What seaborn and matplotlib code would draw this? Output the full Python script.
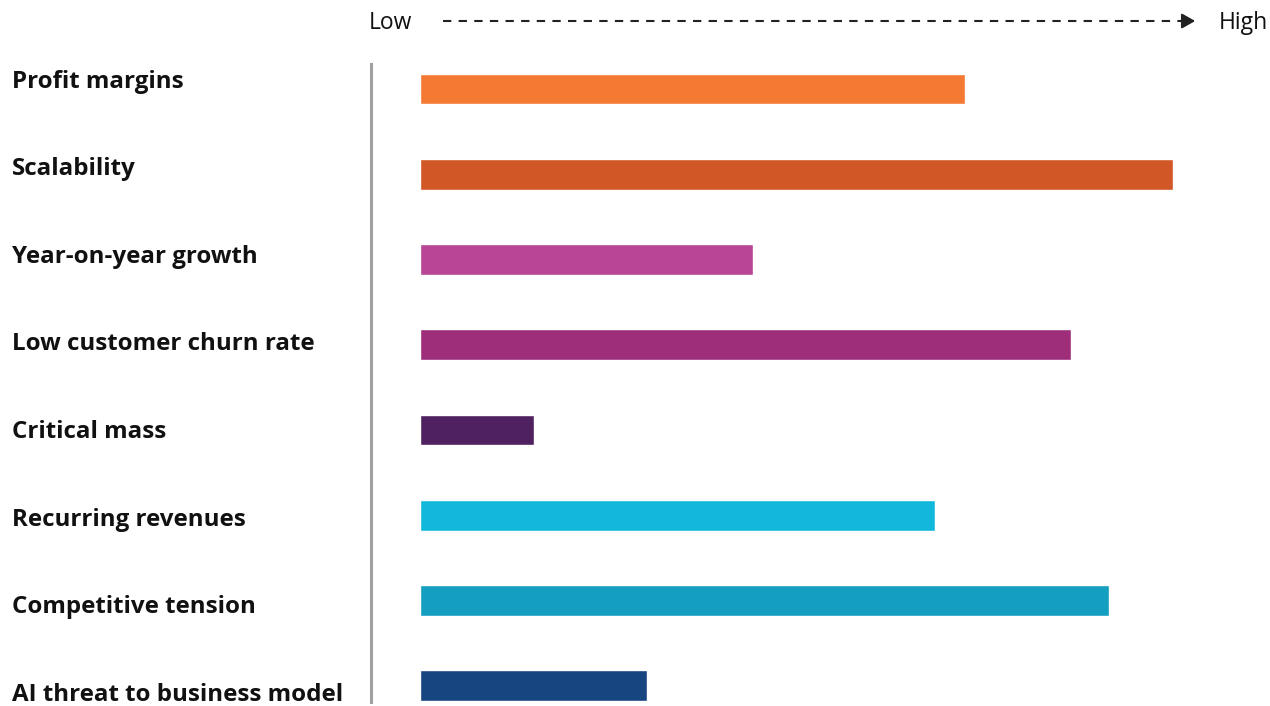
import matplotlib
matplotlib.use("Agg")
import matplotlib.pyplot as plt
import seaborn as sns
import pandas as pd

categories = ["Profit margins", "Scalability", "Year-on-year growth", "Low customer churn rate",
              "Critical mass", "Recurring revenues", "Competitive tension", "AI threat to business model"]
values = [70.2, 97.0, 42.9, 83.9, 14.7, 66.4, 88.8, 29.3]
colors = ["#F47932", "#D25727", "#B94597", "#9E2E7A", "#4F2160", "#12B7DC", "#149FC0", "#174580"]
axis_low = "Low"
axis_high = "High"

sns.set_style("white")
plt.rcParams['font.family'] = ['Open Sans', 'DejaVu Sans']

W, H = 1270, 706
fig = plt.figure(figsize=(12.7, 7.06), dpi=100)
ax = fig.add_axes([420 / W, 1 - 702 / H, (1196 - 420) / W, (702 - 64) / H])

df = pd.DataFrame({"cat": categories, "val": values})
sns.barplot(data=df, y="cat", x="val", hue="cat", palette=colors, orient="h",
            width=0.36, legend=False, ax=ax, saturation=1)

ax.set_xlim(0, 100)
ax.set_ylim(7.19, -0.293)
ax.set_xlabel("")
ax.set_ylabel("")
ax.set_xticks([])
ax.set_yticks([])
for s in ["top", "right", "bottom"]:
    ax.spines[s].set_visible(False)
ax.spines["left"].set_position(("outward", 49 * 72 / 100))
ax.spines["left"].set_color("#A0A0A0")
ax.spines["left"].set_linewidth(2.2)

# category labels
label_y = [82, 169, 257, 344, 432, 520, 607, 695]
for lab, py in zip(categories, label_y):
    fig.text(12 / W, 1 - py / H, lab, ha="left", va="center", fontsize=17.4,
             fontweight="bold", color="#111111")

# Low -> High arrow
ytop = 1 - 21 / H
fig.text(369 / W, 1 - 23 / H, axis_low, ha="left", va="center", fontsize=16.5, color="#111111")
fig.text(1268 / W, 1 - 23 / H, axis_high, ha="right", va="center", fontsize=16.5, color="#111111")
fig.add_artist(matplotlib.lines.Line2D([443 / W, 1184 / W], [ytop, ytop], color="#222222",
                                       lw=1.5, linestyle=(0, (4, 3.5))))
ax.annotate("", xy=(1198 / W, ytop), xytext=(1180 / W, ytop), xycoords="figure fraction",
            arrowprops=dict(arrowstyle="-|>,head_length=0.8,head_width=0.45", color="#222222", lw=1.5))

fig.savefig("out.png", dpi=100)
